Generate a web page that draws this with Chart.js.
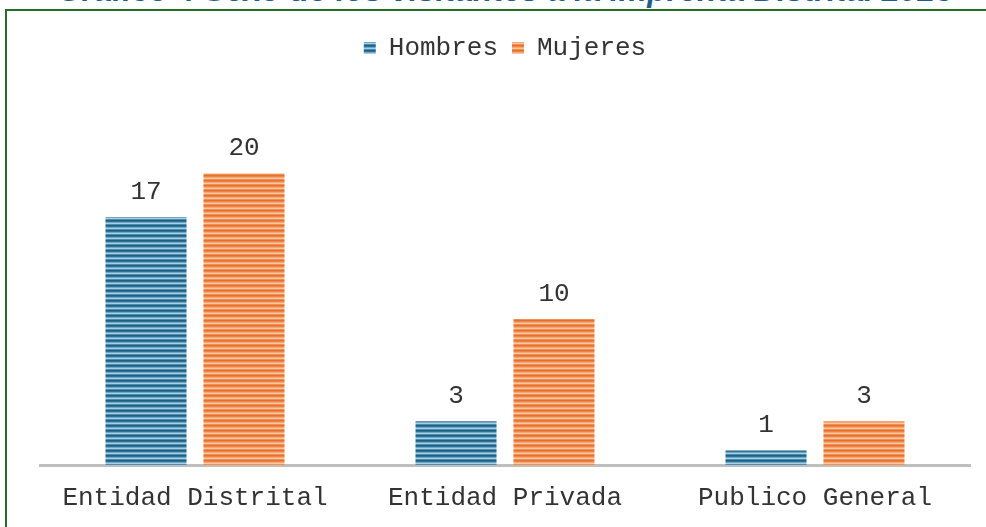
<!DOCTYPE html>
<html>
<head>
<meta charset="utf-8">
<script src="https://cdn.jsdelivr.net/npm/chart.js@4.4.1/dist/chart.umd.min.js"></script>
<style>
    html, body { margin: 0; padding: 0; background: #fff; overflow: hidden; }
    #frame {
        position: absolute; left: 5px; top: 9px; width: 1100px; height: 700px;
        border-left: 2px solid #217026; border-top: 2px solid #217026;
    }
    #title {
        position: absolute; left: 0; top: -26px; width: 1010px; text-align: center;
        font: italic bold 32px "Liberation Sans", Arial, sans-serif; line-height: 32px;
        color: #1f5f87; white-space: nowrap;
    }
    #wrap { position: absolute; left: 0; top: 0; width: 986px; height: 527px; }
</style>
</head>
<body>
<div id="frame"></div>
<div id="title">Gráfico 4 Sexo de los visitantes a la imprenta Distrital 2023</div>
<div id="wrap"><canvas id="myBarChart" width="986" height="527"></canvas></div>
<script>
const categories = ['Entidad Distrital', 'Entidad Privada', 'Publico General'];
const hombres = [17, 3, 1];
const mujeres = [20, 10, 3];

function stripe_pattern(colors) {
    let c = document.createElement('canvas');
    c.width = 8;
    c.height = colors.length;
    let g = c.getContext('2d');
    colors.forEach((col, i) => {
        g.fillStyle = col;
        g.fillRect(0, i, 8, 1);
    });
    return g.createPattern(c, 'repeat');
}

const blue_fill = stripe_pattern(['#1f5f80', '#2d7398', '#6fa7c6', '#a9cfe2', '#4f8bb0']);
const orange_fill = stripe_pattern(['#e8702e', '#ef8446', '#f5a877', '#f9c8a6', '#f0904f']);

const monoFont = '"Liberation Mono", "Courier New", monospace';

// value labels above each bar
const valueLabels = {
    id: 'valueLabels',
    afterDatasetsDraw(chart) {
        const ctx = chart.ctx;
        ctx.save();
        ctx.font = '26px ' + monoFont;
        ctx.fillStyle = '#333';
        ctx.textAlign = 'center';
        ctx.textBaseline = 'middle';
        chart.data.datasets.forEach((ds, i) => {
            chart.getDatasetMeta(i).data.forEach((bar, j) => {
                ctx.fillText(ds.data[j], bar.x, bar.y - 25);
            });
        });
        ctx.restore();
    }
};

const ctx = document.getElementById('myBarChart').getContext('2d');
const myBarChart = new Chart(ctx, {
    type: 'bar',
    data: {
        labels: categories,
        datasets: [
            {
                label: 'Hombres',
                data: hombres,
                backgroundColor: blue_fill
            },
            {
                label: 'Mujeres',
                data: mujeres,
                backgroundColor: orange_fill
            }
        ]
    },
    options: {
        responsive: false,
        animation: false,
        layout: {
            padding: { left: 40, right: 16, top: 21, bottom: -4 }
        },
        categoryPercentage: 0.632,
        barPercentage: 0.827,
        plugins: {
            legend: {
                position: 'top',
                labels: {
                    boxWidth: 12,
                    boxHeight: 12,
                    padding: 14,
                    color: '#333',
                    font: { family: monoFont, size: 26 }
                }
            },
            title: { display: false },
            tooltip: { enabled: false }
        },
        scales: {
            x: {
                grid: { display: false, drawTicks: false },
                border: { display: true, color: '#bfbfbf', width: 3 },
                ticks: {
                    padding: 20,
                    color: '#333',
                    font: { family: monoFont, size: 26, lineHeight: 1 }
                }
            },
            y: {
                display: false,
                min: 0,
                max: 27
            }
        }
    },
    plugins: [valueLabels]
});
</script>
</body>
</html>
